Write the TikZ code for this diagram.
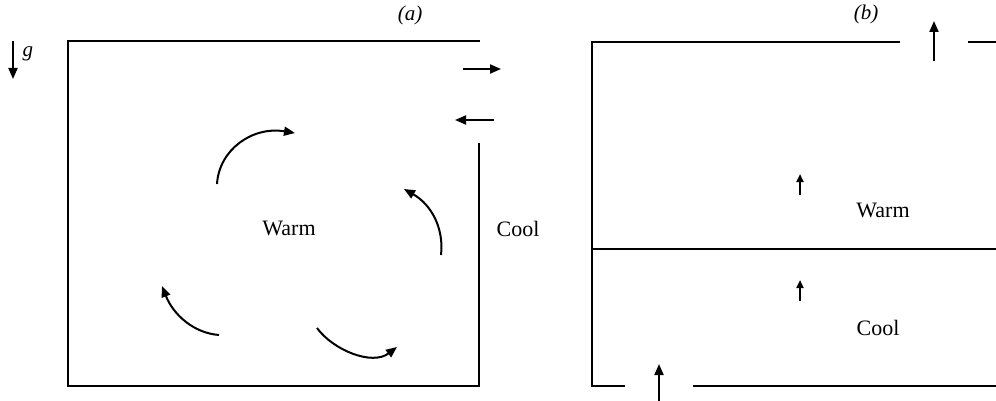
\documentclass[tikz,border=0pt]{standalone}
\usepackage{fontspec}
\setmainfont{Liberation Serif}
\usetikzlibrary{arrows.meta}
\tikzset{
  wall/.style={line width=2.4pt, line cap=butt, line join=miter},
  flow/.style={line width=2pt, -{Triangle[length=11pt,width=9pt]}},
  smallflow/.style={line width=2.2pt, -{Triangle[length=8pt,width=7pt]}},
  lbl/.style={font=\fontsize{22}{26}\selectfont, inner sep=0pt},
  tag/.style={font=\fontsize{21}{25}\selectfont\itshape, inner sep=0pt}
}
\begin{document}
\begin{tikzpicture}[x=1pt,y=-1pt]
\useasboundingbox (0,0) rectangle (996,401);
% ---------- (a) ----------
\draw[wall] (480,41) -- (68,41) -- (68,386) -- (479,386) -- (479,143);
\coordinate (g1) at (13,41); \coordinate (g2) at (13,79);
\draw[flow] (g1) -- (g2);
\node[tag] (glbl) at (28,54) {g};
\node[tag] (ta) at (410,15) {(a)};
\coordinate (o1) at (463,69); \coordinate (o2) at (501,69);
\draw[flow] (o1) -- (o2);
\coordinate (i1) at (494,120); \coordinate (i2) at (455,120);
\draw[flow] (i1) -- (i2);
\node[lbl] (warmA) at (289,228) {Warm};
\node[lbl] (coolA) at (518,229) {Cool};
% circulation arrows
\coordinate (c1a) at (217,184); \coordinate (c1b) at (295,133);
\draw[flow] (c1a) .. controls (219,150) and (252,126) .. (c1b);
\coordinate (c2a) at (441,255); \coordinate (c2b) at (404,189);
\draw[flow] (c2a) .. controls (444,229) and (432,205) .. (c2b);
\coordinate (c3a) at (219,335); \coordinate (c3b) at (162,286);
\draw[flow] (c3a) .. controls (193,333) and (173,314) .. (c3b);
\coordinate (c4a) at (317,328); \coordinate (c4b) at (397,347);
\draw[flow] (c4a) .. controls (333,350) and (372,366) .. (c4b);
% ---------- (b) ----------
\draw[wall] (900,42) -- (592,42) -- (592,386) -- (625,386);
\draw[wall] (968,42) -- (996,42);
\draw[wall] (693,386) -- (996,386);
\draw[wall] (592,249) -- (996,249);
\node[tag] (tb) at (866,14) {(b)};
\coordinate (u1) at (934,61); \coordinate (u2) at (934,21);
\draw[flow] (u1) -- (u2);
\coordinate (b1) at (659,401); \coordinate (b2) at (659,364);
\draw[flow] (b1) -- (b2);
\coordinate (s1) at (800,195); \coordinate (s2) at (800,174);
\draw[smallflow] (s1) -- (s2);
\coordinate (s3) at (800,301); \coordinate (s4) at (800,280);
\draw[smallflow] (s3) -- (s4);
\node[lbl] (warmB) at (883,210) {Warm};
\node[lbl] (coolB) at (878,328) {Cool};
\end{tikzpicture}
\end{document}
